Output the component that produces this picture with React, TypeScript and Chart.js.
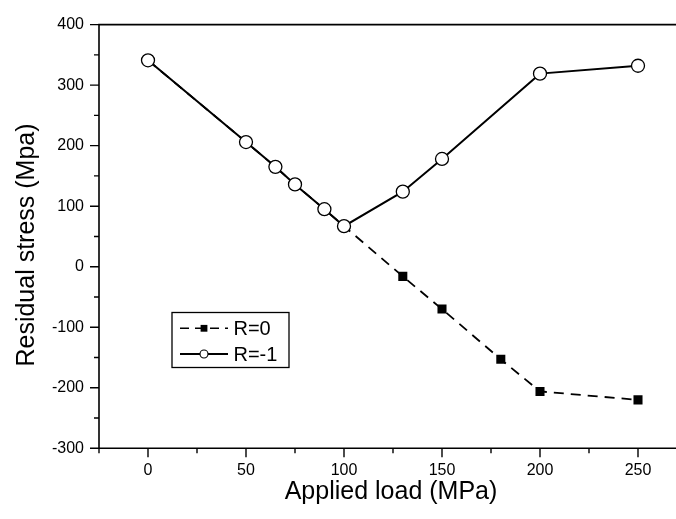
import React, { useEffect, useRef } from 'react';
import { Chart, registerables } from 'chart.js';

Chart.register(...registerables);

// ---- data ----
const loadR1 = [0, 50, 65, 75, 90, 100, 130, 150, 200, 250];
const stressR1 = [341, 206, 165, 136, 95, 67, 124, 178, 319, 332];
const loadR0 = [0, 50, 65, 75, 90, 100, 130, 150, 180, 200, 250];
const stressR0 = [341, 206, 165, 136, 95, 67, -16, -70, -153, -206, -220];

const xTickValues = [0, 50, 100, 150, 200, 250];
const xMinorValues = [-25, 25, 75, 125, 175, 225, 275];
const yTickValues = [-300, -200, -100, 0, 100, 200, 300, 400];
const yMinorValues = [-250, -150, -50, 50, 150, 250, 350];

const legendLabels = ['R=0', 'R=-1'];
const xTitle = 'Applied load (MPa)';
const yTitle = 'Residual stress (Mpa)';

const FONT = '"Liberation Sans", Arial, Helvetica, sans-serif';

const decorPlugin = {
  id: 'decor',
  afterDraw(chart: any) {
    const ctx = chart.ctx as CanvasRenderingContext2D;
    const { left, right, top, bottom } = chart.chartArea;
    const xs = chart.scales.x;
    const ys = chart.scales.y;
    ctx.save();
    ctx.strokeStyle = '#000';
    ctx.fillStyle = '#000';
    ctx.setLineDash([]);

    // frame
    ctx.lineWidth = 1.6;
    ctx.beginPath();
    ctx.moveTo(left, top);
    ctx.lineTo(right, top);
    ctx.lineTo(right, bottom);
    ctx.lineTo(left, bottom);
    ctx.closePath();
    ctx.stroke();

    // ticks
    ctx.lineWidth = 1.4;
    ctx.beginPath();
    xTickValues.forEach((v) => {
      const px = xs.getPixelForValue(v);
      ctx.moveTo(px, bottom);
      ctx.lineTo(px, bottom + 9);
    });
    xMinorValues.forEach((v) => {
      const px = xs.getPixelForValue(v);
      ctx.moveTo(px, bottom);
      ctx.lineTo(px, bottom + 5);
    });
    yTickValues.forEach((v) => {
      const py = ys.getPixelForValue(v);
      ctx.moveTo(left, py);
      ctx.lineTo(left - 9, py);
    });
    yMinorValues.forEach((v) => {
      const py = ys.getPixelForValue(v);
      ctx.moveTo(left, py);
      ctx.lineTo(left - 5, py);
    });
    ctx.stroke();

    // axis titles
    ctx.font = `25px ${FONT}`;
    ctx.textAlign = 'center';
    ctx.textBaseline = 'middle';
    ctx.fillText(xTitle, 391, 492);
    ctx.save();
    ctx.translate(27, 245);
    ctx.rotate(-Math.PI / 2);
    ctx.fillText(yTitle, 0, 0);
    ctx.restore();

    // legend
    const bx = 172, by = 312.5, bw = 117, bh = 55;
    ctx.lineWidth = 1.3;
    ctx.strokeRect(bx, by, bw, bh);
    const rows = [328.3, 354];
    // R=0 row
    ctx.lineWidth = 1.6;
    ctx.setLineDash([9, 6]);
    ctx.beginPath();
    ctx.moveTo(180, rows[0]);
    ctx.lineTo(228, rows[0]);
    ctx.stroke();
    ctx.setLineDash([]);
    ctx.fillRect(204 - 3.4, rows[0] - 3.4, 6.8, 6.8);
    // R=-1 row
    ctx.lineWidth = 1.8;
    ctx.beginPath();
    ctx.moveTo(180, rows[1]);
    ctx.lineTo(228, rows[1]);
    ctx.stroke();
    ctx.beginPath();
    ctx.arc(204, rows[1], 4, 0, Math.PI * 2);
    ctx.fillStyle = '#fff';
    ctx.fill();
    ctx.lineWidth = 1.1;
    ctx.stroke();
    ctx.fillStyle = '#000';
    ctx.font = `20px ${FONT}`;
    ctx.textAlign = 'left';
    ctx.textBaseline = 'alphabetic';
    ctx.fillText(legendLabels[0], 233.5, 335.3);
    ctx.fillText(legendLabels[1], 233.5, 361.2);

    ctx.restore();
  },
};

export default function App() {
  const ref = useRef<HTMLCanvasElement | null>(null);

  useEffect(() => {
    if (!ref.current) return;
    const chart = new Chart(ref.current, {
      type: 'line',
      data: {
        datasets: [
          {
            label: legendLabels[0],
            data: loadR0.map((x, i) => ({ x, y: stressR0[i] })),
            borderColor: '#000',
            backgroundColor: '#000',
            borderWidth: 1.8,
            borderDash: [10, 7],
            pointStyle: 'rect',
            pointRadius: 6.4,
            pointBorderWidth: 0,
            pointBackgroundColor: '#000',
            tension: 0,
            order: 2,
          },
          {
            label: legendLabels[1],
            data: loadR1.map((x, i) => ({ x, y: stressR1[i] })),
            borderColor: '#000',
            backgroundColor: '#fff',
            borderWidth: 2,
            pointStyle: 'circle',
            pointRadius: 6.5,
            pointBorderWidth: 1.3,
            pointBorderColor: '#000',
            pointBackgroundColor: '#fff',
            tension: 0,
            order: 1,
          },
        ],
      },
      options: {
        animation: false,
        responsive: false,
        devicePixelRatio: 1,
        layout: { padding: { top: 18.3, right: 13, left: 0, bottom: 0 } },
        plugins: {
          legend: { display: false },
          tooltip: { enabled: false },
        },
        scales: {
          x: {
            type: 'linear',
            min: -25,
            max: 275,
            grid: { display: false, drawTicks: false },
            border: { display: false },
            ticks: {
              color: '#000',
              font: { size: 16, family: FONT },
              padding: 13,
              maxRotation: 0,
              autoSkip: false,
            },
            afterBuildTicks: (s: any) => {
              s.ticks = xTickValues.map((v) => ({ value: v }));
            },
            afterFit: (s: any) => {
              s.height = 70.7;
            },
          },
          y: {
            type: 'linear',
            min: -300,
            max: 400,
            grid: { display: false, drawTicks: false },
            border: { display: false },
            ticks: {
              color: '#000',
              font: { size: 16, family: FONT },
              padding: 15,
              autoSkip: false,
            },
            afterBuildTicks: (s: any) => {
              s.ticks = yTickValues.map((v) => ({ value: v }));
            },
            afterFit: (s: any) => {
              s.width = 99;
            },
          },
        },
      },
      plugins: [decorPlugin],
    });
    return () => chart.destroy();
  }, []);

  return (
    <div
      style={{
        position: 'fixed',
        left: 0,
        top: 0,
        width: 676,
        height: 519,
        overflow: 'hidden',
        background: '#fff',
      }}
    >
      <canvas ref={ref} width={700} height={519} style={{ display: 'block' }} />
    </div>
  );
}
